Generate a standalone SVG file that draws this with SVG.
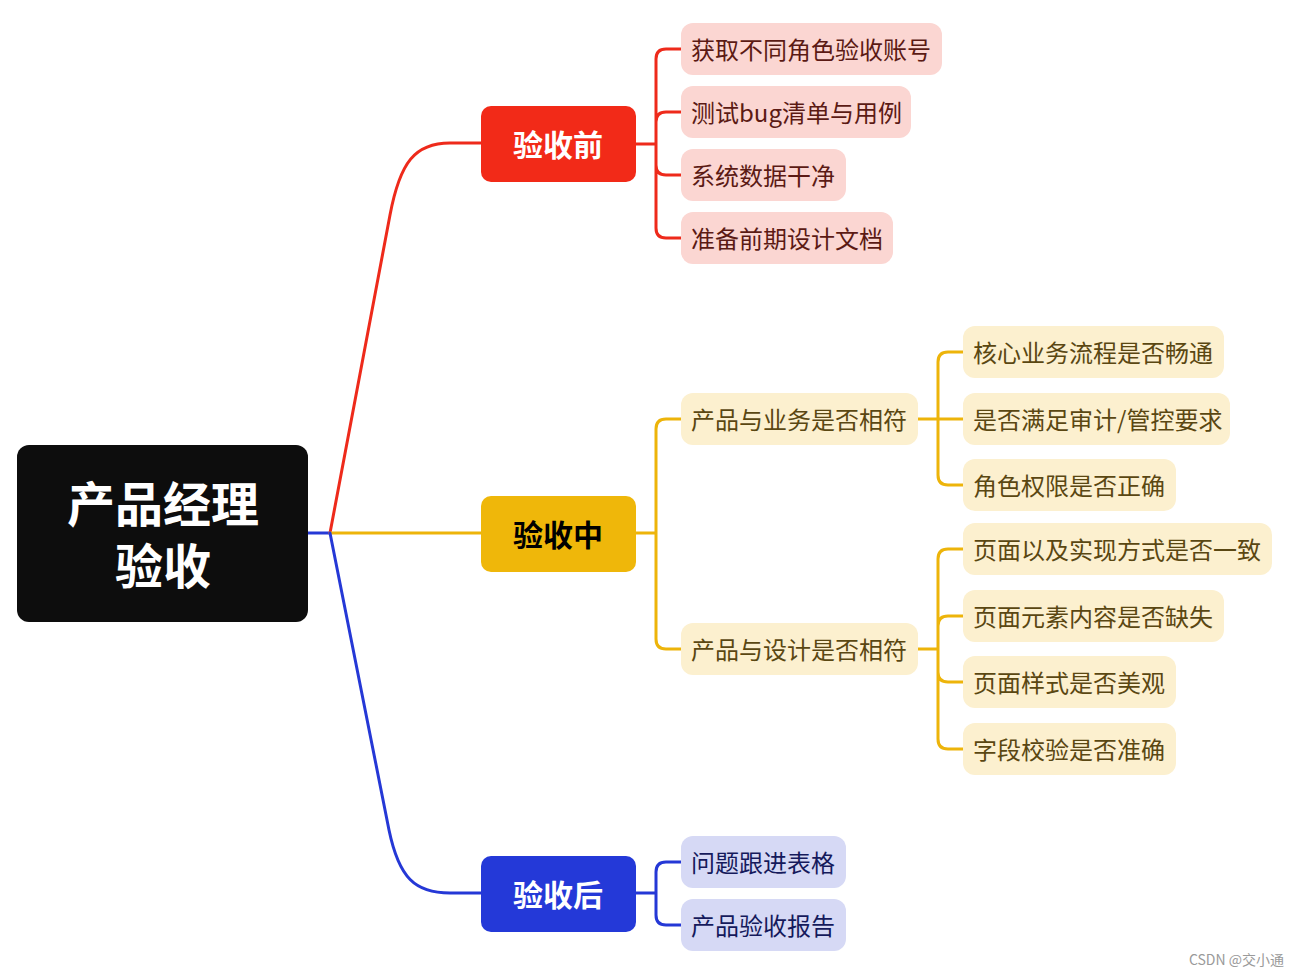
<svg xmlns="http://www.w3.org/2000/svg" width="1300" height="976" viewBox="0 0 1300 976">
<style>
text{font-family:"Noto Sans CJK SC","Noto Sans",sans-serif;}
.c{fill:none;stroke-width:3;stroke-linecap:round;stroke-linejoin:round}
.r{stroke:#EE2A1B}.y{stroke:#EDB40A}.b{stroke:#2538D6}
.t2{font-size:24px;dominant-baseline:central}
.tr{fill:#5B1A14}.ty{fill:#5A4712}.tb{fill:#151A5C}
.pr{fill:#FBD6D2}.py{fill:#FCF0CF}.pb{fill:#D6D9F5}
.l1{font-size:30px;font-weight:bold;text-anchor:middle;dominant-baseline:central}
</style>
<rect width="1300" height="976" fill="#fff"/>
<g id="connectors">
<path class="c b" d="M308,533 L330,533"/>
<path class="c r" d="M330,533 L390,215 C400,162 415,143 450,143 L481,143"/>
<path class="c y" d="M330,533 L481,533"/>
<path class="c b" d="M330,533 L389,830 C399,878 415,893 450,893 L481,893"/>
<path class="c r" d="M636,144 L656,144 M681,49 L666,49 Q656,49 656,59 L656,228 Q656,238 666,238 L681,238 M681,112 L666,112 Q656,112 656,122 M681,175 L666,175 Q656,175 656,165"/>
<path class="c y" d="M636,533 L656,533 M681,419 L666,419 Q656,419 656,429 L656,639 Q656,649 666,649 L681,649"/>
<path class="c y" d="M918,419 L963,419 M963,352 L948,352 Q938,352 938,362 L938,475 Q938,485 948,485 L963,485"/>
<path class="c y" d="M918,649 L938,649 M963,549 L948,549 Q938,549 938,559 L938,739 Q938,749 948,749 L963,749 M963,616 L948,616 Q938,616 938,626 M963,682 L948,682 Q938,682 938,672"/>
<path class="c b" d="M636,893 L656,893 M681,862 L666,862 Q656,862 656,872 L656,915 Q656,925 666,925 L681,925"/>
</g>
<g id="root">
<rect x="17" y="445" width="291" height="177" rx="12" fill="#0D0D0D"/>
<text font-size="48" font-weight="bold" fill="#fff" text-anchor="middle"><tspan x="163" y="522">产品经理</tspan><tspan x="163" y="584">验收</tspan></text>
</g>
<g id="before">
<rect x="481" y="106" width="155" height="76" rx="10" fill="#F22A18"/>
<text class="l1" x="558" y="143" fill="#fff">验收前</text>
</g>
<g id="during">
<rect x="481" y="496" width="155" height="76" rx="10" fill="#EFB70A"/>
<text class="l1" x="558" y="533" fill="#000">验收中</text>
</g>
<g id="after">
<rect x="481" y="856" width="155" height="76" rx="10" fill="#2439D8"/>
<text class="l1" x="558" y="893" fill="#fff">验收后</text>
</g>
<g id="r1"><rect class="pr" x="681" y="23" width="261" height="52" rx="12"/><text class="t2 tr" x="691" y="48">获取不同角色验收账号</text></g>
<g id="r2"><rect class="pr" x="681" y="86" width="230" height="52" rx="12"/><text class="t2 tr" x="691" y="111">测试bug清单与用例</text></g>
<g id="r3"><rect class="pr" x="681" y="149" width="165" height="52" rx="12"/><text class="t2 tr" x="691" y="174">系统数据干净</text></g>
<g id="r4"><rect class="pr" x="681" y="212" width="212" height="52" rx="12"/><text class="t2 tr" x="691" y="237">准备前期设计文档</text></g>
<g id="y1"><rect class="py" x="681" y="393" width="237" height="52" rx="12"/><text class="t2 ty" x="691" y="418">产品与业务是否相符</text></g>
<g id="y2"><rect class="py" x="681" y="623" width="237" height="52" rx="12"/><text class="t2 ty" x="691" y="648">产品与设计是否相符</text></g>
<g id="y11"><rect class="py" x="963" y="326" width="261" height="52" rx="12"/><text class="t2 ty" x="973" y="351">核心业务流程是否畅通</text></g>
<g id="y12"><rect class="py" x="963" y="393" width="267" height="52" rx="12"/><text class="t2 ty" x="973" y="418">是否满足审计/管控要求</text></g>
<g id="y13"><rect class="py" x="963" y="459" width="213" height="52" rx="12"/><text class="t2 ty" x="973" y="484">角色权限是否正确</text></g>
<g id="y21"><rect class="py" x="963" y="523" width="309" height="52" rx="12"/><text class="t2 ty" x="973" y="548">页面以及实现方式是否一致</text></g>
<g id="y22"><rect class="py" x="963" y="590" width="261" height="52" rx="12"/><text class="t2 ty" x="973" y="615">页面元素内容是否缺失</text></g>
<g id="y23"><rect class="py" x="963" y="656" width="213" height="52" rx="12"/><text class="t2 ty" x="973" y="681">页面样式是否美观</text></g>
<g id="y24"><rect class="py" x="963" y="723" width="213" height="52" rx="12"/><text class="t2 ty" x="973" y="748">字段校验是否准确</text></g>
<g id="b1"><rect class="pb" x="681" y="836" width="165" height="52" rx="12"/><text class="t2 tb" x="691" y="861">问题跟进表格</text></g>
<g id="b2"><rect class="pb" x="681" y="899" width="165" height="52" rx="12"/><text class="t2 tb" x="691" y="924">产品验收报告</text></g>
<text x="1284" y="959" font-size="14" fill="#9a9a9a" text-anchor="end" dominant-baseline="central">CSDN @交小通</text>
</svg>
